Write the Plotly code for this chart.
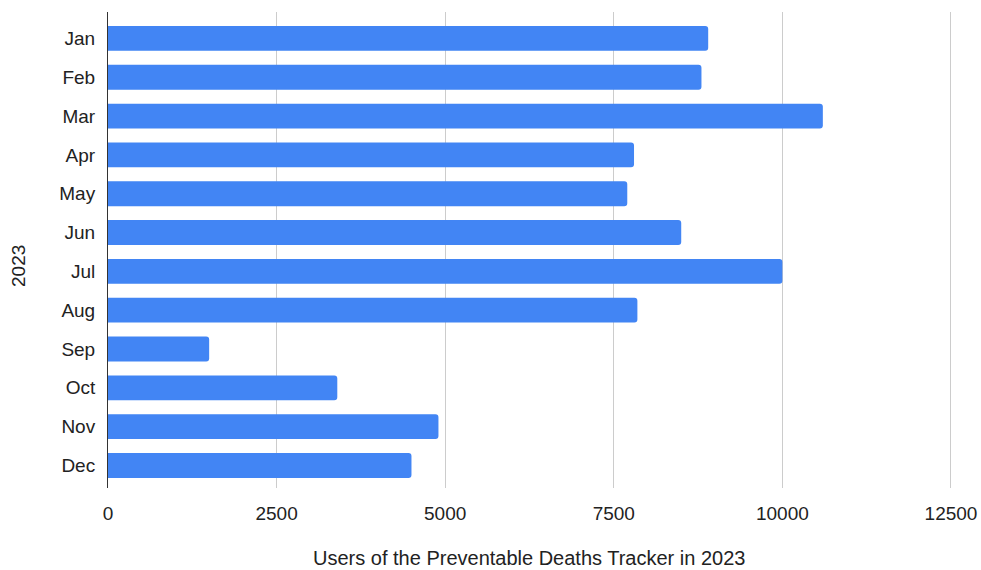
import plotly.graph_objects as go

months = ["Jan", "Feb", "Mar", "Apr", "May", "Jun", "Jul", "Aug", "Sep", "Oct", "Nov", "Dec"]
users = [8900, 8800, 10600, 7800, 7700, 8500, 10000, 7850, 1500, 3400, 4900, 4500]
x_ticks = [0, 2500, 5000, 7500, 10000, 12500]

FONT = "Liberation Sans, Arial, sans-serif"
TXT = "#222222"

fig = go.Figure(go.Bar(
    x=users, y=months, orientation="h",
    marker=dict(color="#4285F4", cornerradius=3, line=dict(width=0)),
    width=0.64,
))

W, H = 981, 570
L, R, T, B = 108, 28, 12, 82
pw = W - L - R
ph = H - T - B

fig.update_layout(
    width=W, height=H,
    margin=dict(l=L, r=R, t=T, b=B),
    paper_bgcolor="white", plot_bgcolor="white",
    font=dict(family=FONT, size=19, color=TXT),
    showlegend=False,
    xaxis=dict(
        range=[0, 12530], tickvals=x_ticks, ticktext=[str(v) for v in x_ticks],
        showgrid=True, gridcolor="#cccccc", gridwidth=1,
        zeroline=False, showline=False, automargin=False,
        ticks="outside", ticklen=8, tickcolor="rgba(0,0,0,0)",
        tickfont=dict(size=19, color=TXT),
    ),
    yaxis=dict(
        categoryorder="array", categoryarray=months,
        range=[11.58, -0.68], automargin=False,
        showgrid=False, zeroline=False,
        showline=True, linecolor="#333333", linewidth=1,
        ticks="outside", ticklen=8, tickcolor="rgba(0,0,0,0)",
        tickfont=dict(size=19, color=TXT),
    ),
    annotations=[
        dict(text="Users of the Preventable Deaths Tracker in 2023",
             x=(529 - L) / pw, xref="paper", y=(H - B - 558) / ph, yref="paper",
             showarrow=False, font=dict(size=20, color=TXT),
             xanchor="center", yanchor="middle"),
        dict(text="2023", x=(18 - L) / pw, xref="paper", y=(H - B - 266) / ph, yref="paper",
             showarrow=False, textangle=-90,
             font=dict(size=19, color=TXT), xanchor="center", yanchor="middle"),
    ],
)

fig.write_html("out.html")
